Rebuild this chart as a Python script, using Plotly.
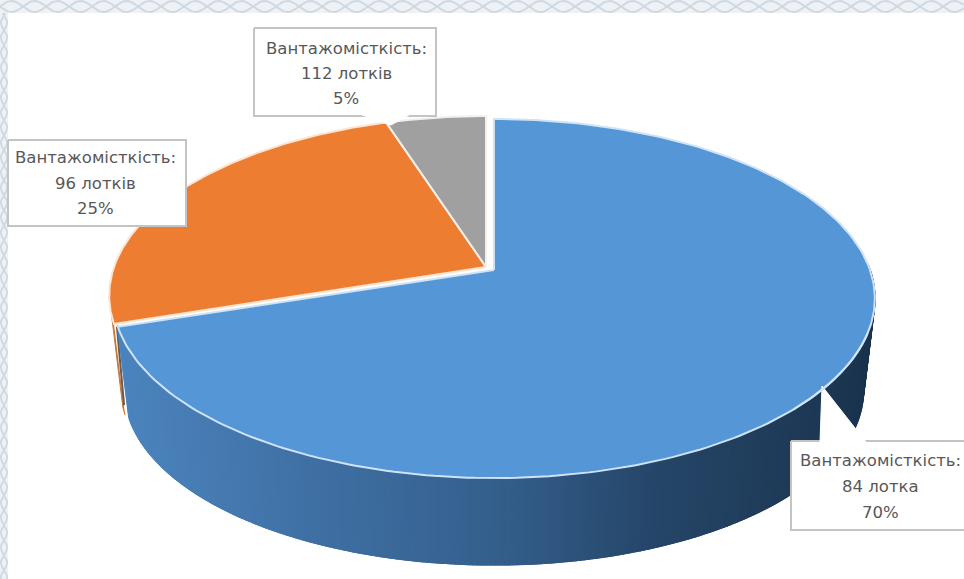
import numpy as np
import plotly.graph_objects as go

# Chart data
capacity_labels = ["84 лотка", "96 лотків", "112 лотків"]
share_percent = [70, 25, 5]
caption = "Вантажомісткість:"

# Styling
TOP_COLORS = ["#5596d6", "#ed7d31", "#a0a0a0"]
RIM_COLORS = ["#cfe3f5", "#fde3d0", "#f4efe9"]
WALL_STOPS = [(120, (76, 132, 190)), (300, (64, 113, 165)), (500, (52, 95, 140)),
              (650, (38, 71, 106)), (870, (27, 52, 78))]
TEXT_COLOR = "#585858"
BOX_BORDER = "#c4c4c4"
FONT = "DejaVu Sans"
W, H = 964, 579

# Perspective projection of the tilted disc onto the page
TILT = 0.159
VERT = 175.0
DEPTH = 93.0
BASE_SCALE = 0.97
APEX = [(494.0, 270.0), (486.0, 267.0), (486.0, 267.0)]
RADIUS = [376.0, 372.0, 372.0]


def project(theta_deg, slice_idx, lower=False):
    t = np.radians(np.asarray(theta_deg, dtype=float))
    u, v = np.sin(t), np.cos(t)
    w = 1 + TILT * v
    s = BASE_SCALE if lower else 1.0
    ax, ay = APEX[slice_idx]
    x = ax + s * RADIUS[slice_idx] * u / w
    y = ay - s * VERT * v / w + (DEPTH if lower else 0.0)
    return x, y


def wall_color(x):
    xs = [p[0] for p in WALL_STOPS]
    rgb = [int(np.interp(x, xs, [p[1][i] for p in WALL_STOPS])) for i in range(3)]
    return "rgb({},{},{})".format(*rgb)


def polygon(xs, ys, fill, line=None, width=1):
    return go.Scatter(x=list(xs), y=list(ys), mode="lines", fill="toself", fillcolor=fill,
                      line=dict(color=line or fill, width=width), hoverinfo="skip", showlegend=False)


fig = go.Figure()

# Slice boundaries, clockwise from twelve o'clock
edges = np.concatenate([[0], np.cumsum(share_percent)]) * 3.6

# Thin sliver of the orange side wall, behind the blue wall
th = np.linspace(edges[1], edges[1] + 2.5, 4)
xu, yu = project(th, 1)
xl, yl = project(th, 1, lower=True)
fig.add_trace(polygon(np.r_[xu, xl[::-1]], np.r_[yu, yl[::-1]], "#c8763a"))
fig.add_trace(go.Scatter(x=[xu[0] + 3, xl[0] - 1], y=[yu[0] + 3, yl[0] - 10], mode="lines",
                         line=dict(color="#6b5a50", width=2), hoverinfo="skip", showlegend=False))

# Blue side wall, built from narrow overlapping strips to carry the shading
wall_edges = np.arange(88.0, edges[1] + 0.01, 0.6)
for a, b in zip(wall_edges[:-1], wall_edges[1:]):
    xu, yu = project([a, b + 0.6], 0)
    xl, yl = project([a, b + 0.6], 0, lower=True)
    fig.add_trace(polygon([xu[0], xu[1], xl[1], xl[0]], [yu[0], yu[1], yl[1], yl[0]],
                          wall_color((xu[0] + xu[1]) / 2), width=1.5))

# Top faces of the slices
for i in [1, 2, 0]:
    th = np.linspace(edges[i], edges[i + 1], 240)
    x, y = project(th, i)
    ax, ay = APEX[i]
    fig.add_trace(polygon(np.r_[ax, x, ax], np.r_[ay, y, ay], TOP_COLORS[i], RIM_COLORS[i], 2))

# Label callouts: box left, top, right, bottom, text centre and pointer outline
boxes = [
    dict(idx=0, box=(791, 441, 966, 530), cx=880, ys=(460, 486, 512),
         ptr=[(820, 442), (822, 386), (866, 442)]),
    dict(idx=1, box=(8, 140, 186, 226), cx=95, ys=(157, 183, 208), ptr=None),
    dict(idx=2, box=(254, 28, 436, 116), cx=346, ys=(48, 73, 98),
         ptr=[(362, 115), (391, 125), (409, 115)]),
]

shapes = [
    dict(type="rect", layer="below", xref="x", yref="y", x0=0, x1=W, y0=0, y1=13,
         fillcolor="#eef2f5", line_width=0),
    dict(type="rect", layer="below", xref="x", yref="y", x0=0, x1=8, y0=0, y1=H,
         fillcolor="#eef2f5", line_width=0),
]

# Lace edging along the top and left borders
xs = np.arange(0, W + 1, 2.0)
for phase in (0, np.pi):
    fig.add_trace(go.Scatter(x=xs, y=6.5 + 5.5 * np.sin(xs * 2 * np.pi / 46 + phase), mode="lines",
                             line=dict(color="#cfd9e1", width=2), hoverinfo="skip", showlegend=False))
ys = np.arange(13, H + 1, 2.0)
for phase in (0, np.pi):
    fig.add_trace(go.Scatter(x=4 + 3.2 * np.sin(ys * 2 * np.pi / 30 + phase), y=ys, mode="lines",
                             line=dict(color="#cfd9e1", width=1.8), hoverinfo="skip", showlegend=False))

annotations = []
for b in boxes:
    x0, y0, x1, y1 = b["box"]
    fig.add_trace(polygon([x0, x1, x1, x0, x0], [y0, y0, y1, y1, y0], "#ffffff", BOX_BORDER, 2))
    if b["ptr"]:
        px, py = zip(*b["ptr"])
        fig.add_trace(polygon(px, py, "#ffffff"))
    i = b["idx"]
    lines = [caption, capacity_labels[i], f"{share_percent[i]}%"]
    for text, yy in zip(lines, b["ys"]):
        annotations.append(dict(x=b["cx"], y=yy, xref="x", yref="y", text=text, showarrow=False,
                                xanchor="center", yanchor="middle",
                                font=dict(family=FONT, size=16.5, color=TEXT_COLOR)))

# Light rim line crossing the right wall where the pointer meets it
xr, yr = project(np.linspace(110, 135, 40), 0)
fig.add_trace(go.Scatter(x=xr, y=yr, mode="lines", line=dict(color=RIM_COLORS[0], width=2),
                         hoverinfo="skip", showlegend=False))

fig.update_layout(
    width=W, height=H, margin=dict(l=0, r=0, t=0, b=0),
    paper_bgcolor="#ffffff", plot_bgcolor="#ffffff",
    xaxis=dict(range=[0, W], visible=False, fixedrange=True),
    yaxis=dict(range=[H, 0], visible=False, fixedrange=True),
    shapes=shapes, annotations=annotations, showlegend=False,
)

fig.write_html("out.html", config=dict(displayModeBar=False))
